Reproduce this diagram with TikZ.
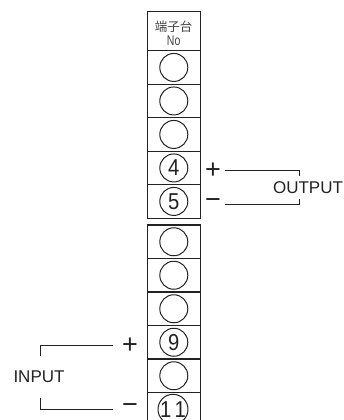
\documentclass[tikz,border=0pt]{standalone}
\usepackage{fontspec}
\setmainfont{Liberation Sans}
\newfontfamily\cjk{Noto Sans CJK JP}
\definecolor{ink}{HTML}{222222}
\tikzset{x=1pt,y=-1pt,
 cell/.style={draw=ink,line width=1.2pt,minimum width=53pt,minimum height=33.5pt,inner sep=0pt,outer sep=0pt,anchor=north west},
 head/.style={cell,minimum height=39pt},
 term/.style={circle,draw=ink,line width=1pt,minimum size=28pt,inner sep=0pt,text=ink},
 wire/.style={draw=ink,line width=1pt},
 lab/.style={inner sep=0pt,text=ink,font=\fontsize{17pt}{18pt}\selectfont},
 sign/.style={inner sep=0pt,text=ink,font=\fontsize{27pt}{27pt}\selectfont}}
\newcommand{\dig}[1]{\scalebox{0.88}[1]{\fontsize{23pt}{23pt}\selectfont #1}}
\begin{document}
\begin{tikzpicture}
\useasboundingbox (0,0) rectangle (344,420);
\clip (0,0) rectangle (344,420);
\node[head] (h) at (147.3,11.7) {};
\node[inner sep=0pt,text=ink!85,font=\fontsize{12.5pt}{13pt}\cjk] (ht) at (173.7,26.5) {端子台};
\node[inner sep=0pt,text=ink!85] (hn) at (173.7,41) {\scalebox{0.75}[1]{\fontsize{14pt}{14pt}\selectfont No}};
\node[cell] (r1) at (147.3,50.7) {};
\node[cell] (r2) at (147.3,84.2) {};
\node[cell] (r3) at (147.3,117.7) {};
\node[cell] (r4) at (147.3,151.2) {};
\node[cell] (r5) at (147.3,184.7) {};
\node[cell] (s1) at (147.3,225) {};
\node[cell] (s2) at (147.3,258.5) {};
\node[cell] (s3) at (147.3,292) {};
\node[cell] (s4) at (147.3,325.5) {};
\node[cell] (s5) at (147.3,359) {};
\node[cell] (s6) at (147.3,392.5) {};
\node[term] (c1) at (r1.center) {};
\node[term] (c2) at (r2.center) {};
\node[term] (c3) at (r3.center) {};
\node[term] (c4) at (r4.center) {\dig{4}};
\node[term] (c5) at (r5.center) {\dig{5}};
\node[term] (d1) at (s1.center) {};
\node[term] (d2) at (s2.center) {};
\node[term] (d3) at (s3.center) {};
\node[term] (d4) at (s4.center) {\dig{9}};
\node[term] (d5) at (s5.center) {};
\node[term] (d6) at (173,409.3) {\dig{1}\hspace{3pt}\dig{1}};
% output
\node[sign] (op) at (213,170.5) {+};
\node[sign] (om) at (213,204) {−};
\node[lab] (out) at (308,188) {OUTPUT};
\coordinate (oa) at (225,170);
\coordinate (oac) at (299.3,170);
\coordinate (oae) at (299.3,176);
\coordinate (ob) at (225,204.3);
\coordinate (obc) at (299.3,204.3);
\coordinate (obe) at (299.3,199);
\draw[wire] (oa) -- (oac) -- (oae);
\draw[wire] (ob) -- (obc) -- (obe);
% input
\node[sign] (ip) at (130,345.5) {+};
\node[sign] (im) at (130,409) {−};
\node[lab] (in) at (39,377) {INPUT};
\coordinate (ia) at (113,345);
\coordinate (iac) at (40,345);
\coordinate (iae) at (40,356);
\coordinate (ib) at (113,409.3);
\coordinate (ibc) at (40,409.3);
\coordinate (ibe) at (40,398);
\draw[wire] (ia) -- (iac) -- (iae);
\draw[wire] (ib) -- (ibc) -- (ibe);
\end{tikzpicture}
\end{document}
